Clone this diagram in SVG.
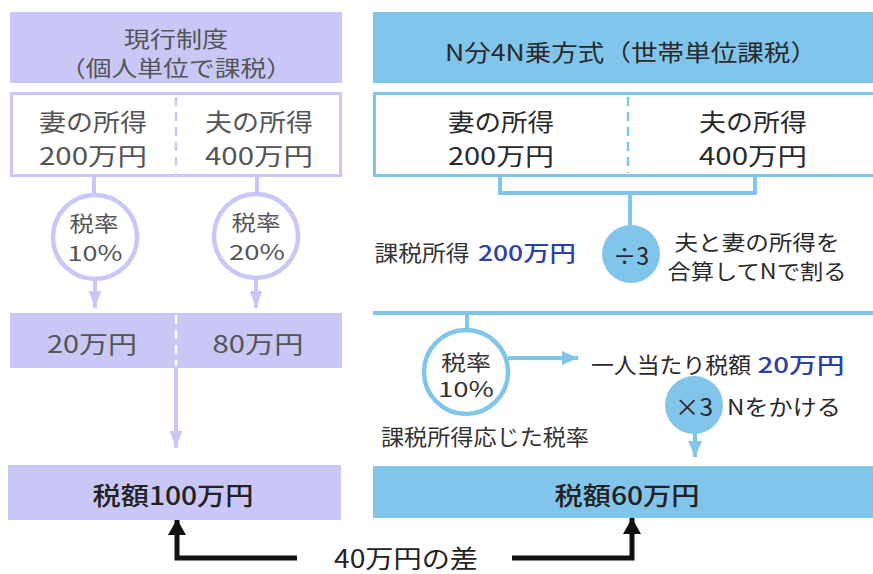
<svg xmlns="http://www.w3.org/2000/svg" width="873" height="574" viewBox="0 0 873 574">
<defs>
<style>
text{font-family:"Noto Sans CJK JP","Noto Sans",sans-serif;text-anchor:middle}
.lv{fill:#c9c7f6}
.bl{fill:#82c5eb}
.lvs{fill:#fff;stroke:#c9c7f6;stroke-width:3}
.bls{fill:#fff;stroke:#82c5eb;stroke-width:3}
.g{fill:#555;font-size:24px}
.d{fill:#2a2a2a;font-size:23px}
.s{fill:#555;font-size:21px}
.e{fill:#2c3fae;font-size:22px;font-weight:500}
.b{fill:#222;font-size:25px;font-weight:500}
.cl{fill:none;stroke:#c9c7f6;stroke-width:4}
.cb{fill:none;stroke:#82c5eb;stroke-width:4}
</style>
<marker id="al" viewBox="0 0 16 12" refX="16" refY="6" markerWidth="17" markerHeight="13" markerUnits="userSpaceOnUse" orient="auto"><path d="M0,0 L16,6 L0,12 Z" fill="#c9c7f6"/></marker>
<marker id="ab" viewBox="0 0 16 14" refX="16" refY="7" markerWidth="16" markerHeight="15" markerUnits="userSpaceOnUse" orient="auto"><path d="M0,0 L16,7 L0,14 Z" fill="#82c5eb"/></marker>
<marker id="ak" viewBox="0 0 16 18" refX="16" refY="9" markerWidth="16" markerHeight="18" markerUnits="userSpaceOnUse" orient="auto"><path d="M0,0 L16,9 L0,18 Z" fill="#111"/></marker>
</defs>
<rect width="873" height="574" fill="#fff"/>

<g id="connectors">
<line class="cl" x1="94" y1="176" x2="94" y2="196"/>
<line class="cl" x1="257" y1="176" x2="257" y2="195"/>
<line class="cl" x1="95" y1="279" x2="95" y2="308" marker-end="url(#al)"/>
<line class="cl" x1="256" y1="278" x2="256" y2="308" marker-end="url(#al)"/>
<line class="cl" x1="176" y1="368" x2="176" y2="448" marker-end="url(#al)"/>
<path class="cb" d="M500,176 V193 H755 V176"/>
<line class="cb" x1="630" y1="193" x2="630" y2="226"/>
<line class="cb" x1="373" y1="313" x2="880" y2="313"/>
<line class="cb" x1="467" y1="313" x2="467" y2="331"/>
<line class="cb" x1="508" y1="358" x2="578" y2="358" marker-end="url(#ab)"/>
<line class="cb" x1="695" y1="433" x2="695" y2="457" marker-end="url(#ab)"/>
<path d="M297,558 H177 V519" fill="none" stroke="#111" stroke-width="5" marker-end="url(#ak)"/>
<path d="M512,558 H632 V518" fill="none" stroke="#111" stroke-width="5" marker-end="url(#ak)"/>
</g>

<g id="left-header">
<rect class="lv" x="10" y="12" width="332" height="71"/>
<text class="d" x="176" y="47" textLength="104" lengthAdjust="spacingAndGlyphs" style="fill:#555;font-size:22px">現行制度</text>
<text class="d" x="176" y="76" textLength="232" lengthAdjust="spacingAndGlyphs" style="fill:#555;font-size:22px">（個人単位で課税）</text>
</g>

<g id="left-income">
<rect class="lvs" x="11.5" y="93.5" width="329" height="82"/>
<line x1="176" y1="97" x2="176" y2="173" stroke="#c9c7f6" stroke-width="2.5" stroke-dasharray="9 6"/>
<text class="g" x="93" y="131" textLength="108" lengthAdjust="spacingAndGlyphs">妻の所得</text>
<text class="g" x="93" y="165" textLength="108" lengthAdjust="spacingAndGlyphs">200万円</text>
<text class="g" x="259" y="131" textLength="108" lengthAdjust="spacingAndGlyphs">夫の所得</text>
<text class="g" x="259" y="165" textLength="108" lengthAdjust="spacingAndGlyphs">400万円</text>
</g>

<g id="left-rate1">
<circle cx="95" cy="237" r="42" fill="#fff" stroke="#c9c7f6" stroke-width="4.5"/>
<text class="s" x="94" y="231" textLength="49" lengthAdjust="spacingAndGlyphs">税率</text>
<text class="s" x="95" y="261" textLength="55" lengthAdjust="spacingAndGlyphs">10%</text>
</g>
<g id="left-rate2">
<circle cx="256" cy="236" r="42" fill="#fff" stroke="#c9c7f6" stroke-width="4.5"/>
<text class="s" x="256" y="230" textLength="49" lengthAdjust="spacingAndGlyphs">税率</text>
<text class="s" x="257" y="260" textLength="56" lengthAdjust="spacingAndGlyphs">20%</text>
</g>

<g id="left-tax">
<rect class="lv" x="10" y="313" width="332" height="55"/>
<line x1="176" y1="315" x2="176" y2="366" stroke="#fff" stroke-width="2.5" stroke-dasharray="9 6"/>
<text class="g" x="92" y="353" textLength="90" lengthAdjust="spacingAndGlyphs">20万円</text>
<text class="g" x="258" y="353" textLength="91" lengthAdjust="spacingAndGlyphs">80万円</text>
</g>

<g id="left-total">
<rect class="lv" x="8" y="465" width="333" height="55"/>
<text class="b" x="173" y="505" textLength="161" lengthAdjust="spacingAndGlyphs">税額100万円</text>
</g>

<g id="right-header">
<rect class="bl" x="373" y="12" width="510" height="71"/>
<text class="d" x="631" y="61" textLength="372" lengthAdjust="spacingAndGlyphs">N分4N乗方式（世帯単位課税）</text>
</g>

<g id="right-income">
<rect class="bls" x="374.5" y="93.5" width="510" height="82"/>
<line x1="628" y1="97" x2="628" y2="173" stroke="#82c5eb" stroke-width="2.5" stroke-dasharray="9 6"/>
<text class="g" x="501" y="131" textLength="106" lengthAdjust="spacingAndGlyphs" style="fill:#2a2a2a">妻の所得</text>
<text class="g" x="501" y="165" textLength="106" lengthAdjust="spacingAndGlyphs" style="fill:#2a2a2a">200万円</text>
<text class="g" x="753" y="131" textLength="108" lengthAdjust="spacingAndGlyphs" style="fill:#2a2a2a">夫の所得</text>
<text class="g" x="753" y="165" textLength="108" lengthAdjust="spacingAndGlyphs" style="fill:#2a2a2a">400万円</text>
</g>

<g id="taxable-income">
<text class="d" x="422" y="261" textLength="95" lengthAdjust="spacingAndGlyphs" style="font-size:22px;fill:#333">課税所得</text>
<text class="e" x="527" y="261" textLength="98" lengthAdjust="spacingAndGlyphs">200万円</text>
</g>

<g id="divide">
<circle cx="631" cy="254" r="29" class="bl"/>
<text class="d" x="631" y="265" textLength="36" lengthAdjust="spacingAndGlyphs" style="font-size:24px">÷3</text>
<text class="d" x="757" y="250" textLength="165" lengthAdjust="spacingAndGlyphs" style="font-size:21px">夫と妻の所得を</text>
<text class="d" x="757" y="279" textLength="179" lengthAdjust="spacingAndGlyphs" style="font-size:21px">合算してNで割る</text>
</g>

<g id="right-rate">
<circle cx="466" cy="372" r="42" fill="#fff" stroke="#82c5eb" stroke-width="4.5"/>
<text class="s" x="466" y="370" textLength="50" lengthAdjust="spacingAndGlyphs" style="fill:#333">税率</text>
<text class="s" x="466" y="397" textLength="56" lengthAdjust="spacingAndGlyphs" style="fill:#333">10%</text>
<text class="d" x="485" y="445" textLength="208" lengthAdjust="spacingAndGlyphs" style="font-size:22px;fill:#333">課税所得応じた税率</text>
</g>

<g id="per-person">
<text class="d" x="671" y="373" textLength="160" lengthAdjust="spacingAndGlyphs" style="font-size:22px">一人当たり税額</text>
<text class="e" x="801" y="373" textLength="87" lengthAdjust="spacingAndGlyphs">20万円</text>
</g>

<g id="multiply">
<circle cx="694" cy="405" r="29" class="bl"/>
<text class="d" x="694" y="416" textLength="38" lengthAdjust="spacingAndGlyphs" style="font-size:24px">×3</text>
<text class="d" x="784" y="415" textLength="114" lengthAdjust="spacingAndGlyphs" style="font-size:22px">Nをかける</text>
</g>

<g id="right-total">
<rect class="bl" x="373" y="466" width="510" height="52"/>
<text class="b" x="627" y="505" textLength="145" lengthAdjust="spacingAndGlyphs">税額60万円</text>
</g>

<g id="difference">
<text class="b" x="406" y="568" textLength="144" lengthAdjust="spacingAndGlyphs" style="font-size:25px;font-weight:400">40万円の差</text>
</g>
</svg>
